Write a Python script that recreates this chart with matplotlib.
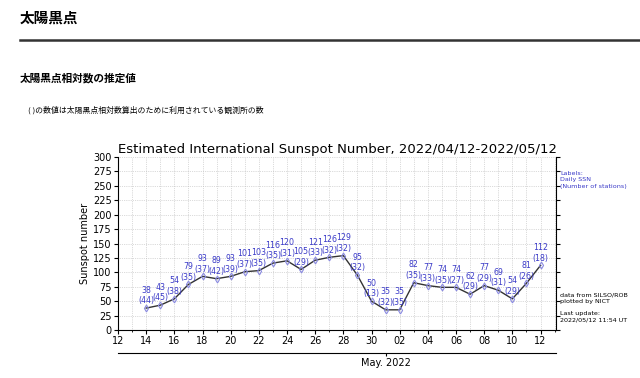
import numpy as np
import matplotlib.pyplot as plt

plt.rcParams['font.family'] = ['DejaVu Sans']
JP = ['Noto Sans CJK JP', 'DejaVu Sans']

# 2022/04/14 - 2022/05/12
days = [14, 15, 16, 17, 18, 19, 20, 21, 22, 23, 24, 25, 26, 27, 28, 29, 30,
        1, 2, 3, 4, 5, 6, 7, 8, 9, 10, 11, 12]
ssn = [38, 43, 54, 79, 93, 89, 93, 101, 103, 116, 120, 105, 121, 126, 129, 95, 50,
       35, 35, 82, 77, 74, 74, 62, 77, 69, 54, 81, 112]
stations = [44, 45, 38, 35, 37, 42, 39, 37, 35, 35, 31, 29, 33, 32, 32, 32, 13,
            32, 35, 35, 33, 35, 27, 29, 29, 31, 29, 26, 18]

# dias desde 04/12
x = np.arange(len(days)) + 2
tick_pos = np.arange(0, 31, 2)
tick_lab = ['%02d' % (d if d <= 30 else d - 30) for d in range(12, 43, 2)]

fig = plt.figure(figsize=(6.4, 3.78), dpi=100)

# encabezado de la pagina
fig.text(20/640, 1 - 18/378, '太陽黒点', family=JP, fontsize=10.5, weight='bold', va='center')
fig.add_artist(plt.Line2D([20/640, 1], [1 - 40/378, 1 - 40/378], color='#333333', lw=1.8))
fig.text(20/640, 1 - 78/378, '太陽黒点相対数の推定値', family=JP, fontsize=7.7, weight='bold', va='center')
fig.text(28/640, 1 - 110/378, '( )の数値は太陽黒点相対数算出のために利用されている観測所の数',
         family=JP, fontsize=5.65, va='center')

ax = fig.add_axes([118/640, 1 - 330/378, 438/640, 173/378])
ax.plot(x, ssn, color='#333333', lw=1, zorder=3)
ax.plot(x, ssn, ls='none', marker='d', ms=3.5, mfc='none', mec='#8a8ae0', mew=0.8, zorder=4)
for xi, v, n in zip(x, ssn, stations):
    ax.annotate('%d\n(%d)' % (v, n), (xi, v), xytext=(0, 2), textcoords='offset points',
                ha='center', va='bottom', fontsize=5.7, color='#3a3ac8', linespacing=1.25)

ax.set_xlim(0, 31.1)
ax.set_ylim(0, 300)
ax.set_yticks(np.arange(0, 301, 25))
ax.set_xticks(tick_pos)
ax.set_xticklabels(tick_lab)
ax.set_xticks(np.arange(0, 32, 1), minor=True)
ax.tick_params(labelsize=7, length=3, pad=1.5)
ax.tick_params(axis='y', right=True, which='both')
ax.tick_params(which='minor', length=1.5)
ax.grid(True, which='both', axis='x', color='#b8b8b8', lw=0.5, ls=':')
ax.grid(True, which='major', axis='y', color='#b8b8b8', lw=0.5, ls=':')
ax.spines['top'].set_visible(False)
ax.set_ylabel('Sunspot number', fontsize=7, labelpad=2)
ax.set_title('Estimated International Sunspot Number, 2022/04/12-2022/05/12', fontsize=9.5, pad=3)

# eje del mes
ax2 = ax.twiny()
ax2.set_xlim(ax.get_xlim())
ax2.xaxis.set_ticks_position('bottom')
ax2.xaxis.set_label_position('bottom')
ax2.spines['bottom'].set_position(('outward', 16.5))
for s in ['top', 'left', 'right']:
    ax2.spines[s].set_visible(False)
ax2.set_xticks([19])
ax2.set_xticklabels(['May. 2022'])
ax2.tick_params(labelsize=7, length=2, pad=1.5)

fig.text(560/640, 1 - 180/378, 'Labels:\nDaily SSN\n(Number of stations)', fontsize=4.6,
         color='#3a3ac8', va='center', linespacing=1.3)
fig.text(560/640, 1 - 298/378, 'data from SILSO/ROB\nplotted by NICT', fontsize=4.6,
         va='center', linespacing=1.3)
fig.text(560/640, 1 - 317/378, 'Last update:\n2022/05/12 11:54 UT', fontsize=4.6,
         va='center', linespacing=1.3)

fig.savefig('out.png', dpi=100)
